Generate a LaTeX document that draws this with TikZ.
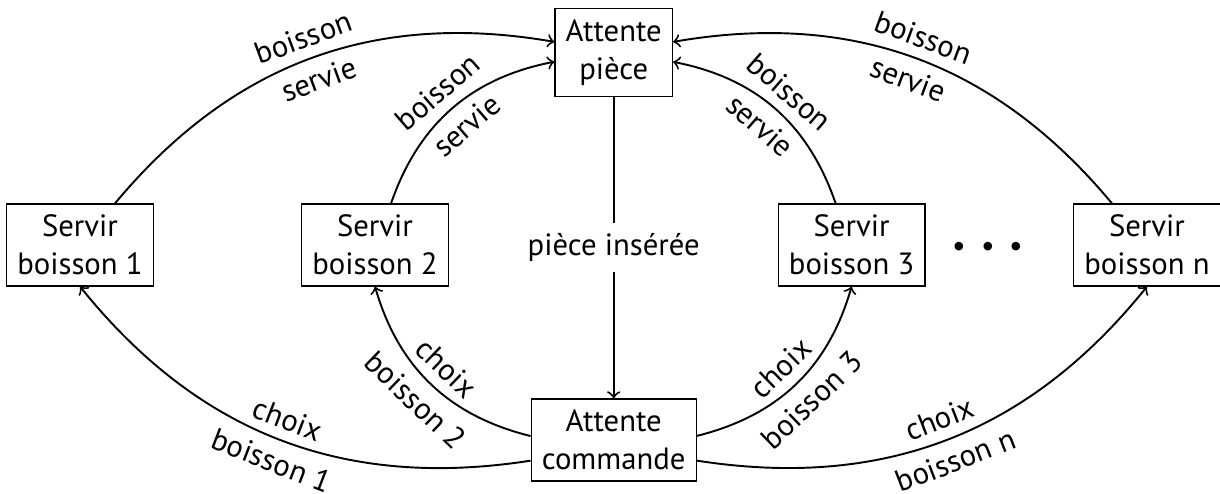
\documentclass[tikz,border=0pt]{standalone}
\usepackage{fontspec}
\setmainfont{PT Sans}[Scale=0.96]
\begin{document}
\begin{tikzpicture}[x=0.3125pt, y=-0.3125pt,
  state/.style={draw, align=center, inner sep=3.33pt},
  arr/.style={->, semithick},
  lbl/.style={sloped, midway}]
\useasboundingbox (0,0) rectangle (1220,493);
% states
\node[state] (ap) at (613.7,52.5) {Attente\\pièce};
\node[state] (ac) at (613.7,440) {Attente\\commande};
\node[state] (s1) at (80,244.9) {Servir\\boisson 1};
\node[state] (s2) at (375,244.9) {Servir\\boisson 2};
\node[state] (s3) at (851.6,244.9) {Servir\\boisson 3};
\node[state] (sn) at (1147,244.9) {Servir\\boisson n};
\node[font=\LARGE\boldmath] (dots) at (988,247) {$\cdots$};
% coin inserted
\draw[arr] (ap) -- node[fill=white] {pièce insérée} (ac);
% drink served, back to waiting for a coin
\draw[arr] (s1) to[bend left=30] node[lbl, above] {boisson} node[lbl, below] {servie} (ap);
\draw[arr] (s2) to[bend left=30] node[lbl, above] {boisson} node[lbl, below] {servie} (ap);
\draw[arr] (s3) to[bend right=30] node[lbl, above] {boisson} node[lbl, below] {servie} (ap);
\draw[arr] (sn) to[bend right=30] node[lbl, above] {boisson} node[lbl, below] {servie} (ap);
% drink chosen
\draw[arr] (ac) to[bend left=30] node[lbl, above] {choix} node[lbl, below] {boisson 1} (s1.south);
\draw[arr] (ac) to[bend left=30] node[lbl, above] {choix} node[lbl, below] {boisson 2} (s2.south);
\draw[arr] (ac) to[bend right=30] node[lbl, above] {choix} node[lbl, below] {boisson 3} (s3.south);
\draw[arr] (ac) to[bend right=30] node[lbl, above] {choix} node[lbl, below] {boisson n} (sn.south);
\end{tikzpicture}
\end{document}
